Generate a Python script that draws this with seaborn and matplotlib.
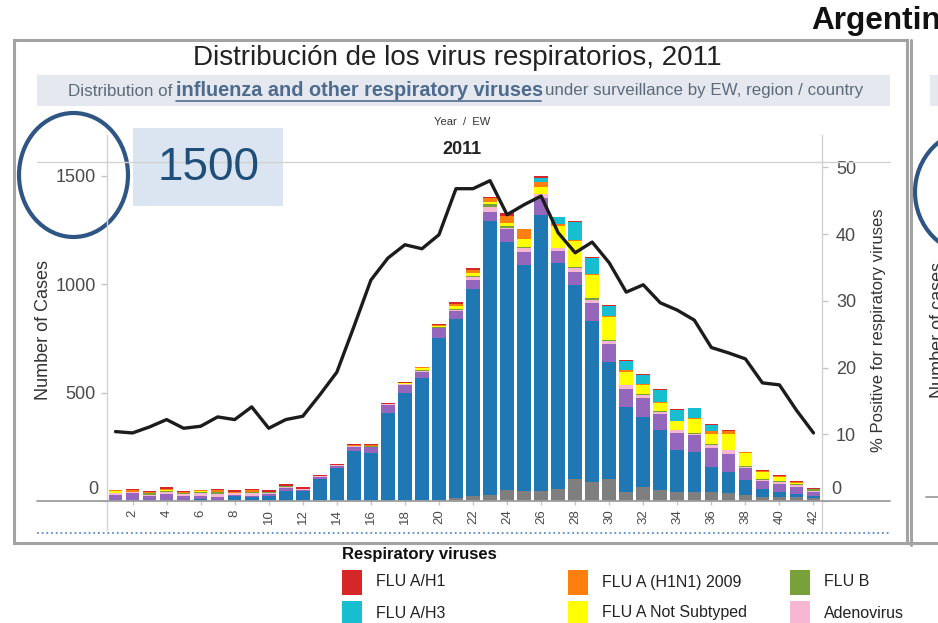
import matplotlib
matplotlib.use("Agg")
import matplotlib.pyplot as plt
import pandas as pd
import seaborn as sns
from matplotlib.patches import Rectangle, Ellipse
from matplotlib.lines import Line2D

# weekly counts, epidemiological weeks 1-42 of 2011
weeks = list(range(1, 43))
other = [0, 0, 0, 0, 0, 0, 0, 0, 0, 0, 0, 0, 0, 1, 0, 0, 0, 0, 3, 6, 12,
         23, 26, 49, 46, 46, 54, 103, 88, 101, 42, 66, 51, 42, 42, 42, 35, 27, 20, 18, 18, 12]
rsv = [3, 3, 4, 4, 4, 8, 6, 22, 18, 24, 46, 48, 100, 150, 231, 223, 405, 497, 563, 745, 826,
       954, 1266, 1145, 1044, 1274, 1043, 894, 743, 542, 390, 323, 278, 192, 184, 113, 100, 69, 35, 22, 14, 11]
parainfluenza = [25, 33, 18, 28, 20, 14, 12, 4, 6, 6, 12, 4, 10, 10, 18, 24, 36, 38, 31, 46, 39,
                 43, 43, 61, 61, 77, 58, 61, 81, 82, 83, 88, 74, 80, 77, 88, 84, 58, 39, 40, 34, 20]
adenovirus = [8, 4, 6, 8, 6, 14, 14, 10, 14, 8, 8, 2, 4, 4, 4, 4, 6, 6, 5, 3, 5,
              15, 23, 6, 15, 18, 10, 15, 16, 15, 18, 14, 8, 12, 6, 15, 15, 5, 4, 8, 9, 3]
flu_b = [2, 2, 8, 6, 8, 6, 8, 2, 2, 2, 2, 0, 0, 0, 1, 1, 0, 1, 2, 2, 4,
         4, 10, 6, 8, 2, 3, 7, 7, 5, 3, 3, 3, 2, 5, 3, 3, 4, 5, 5, 5, 10]
flu_a_ns = [8, 0, 2, 3, 0, 2, 2, 0, 0, 0, 0, 0, 0, 0, 1, 1, 0, 1, 9, 5, 15,
            15, 10, 15, 35, 31, 102, 118, 108, 103, 59, 41, 38, 39, 66, 46, 70, 58, 33, 20, 4, 0]
h1n1_2009 = [5, 10, 5, 8, 4, 6, 8, 3, 12, 2, 2, 2, 2, 0, 4, 4, 2, 2, 4, 5, 8,
             10, 20, 35, 46, 25, 8, 5, 5, 6, 8, 5, 4, 3, 4, 15, 16, 3, 4, 3, 2, 0]
flu_a_h3 = [0, 0, 0, 0, 0, 0, 0, 0, 0, 0, 0, 0, 0, 0, 0, 0, 0, 0, 0, 0, 0,
            0, 0, 0, 0, 18, 31, 85, 72, 45, 43, 43, 56, 52, 44, 30, 0, 0, 0, 0, 0, 0]
flu_a_h1 = [2, 2, 4, 6, 5, 2, 4, 8, 2, 8, 10, 10, 6, 5, 3, 5, 2, 6, 3, 3, 8,
            10, 3, 12, 0, 8, 3, 2, 8, 5, 6, 5, 4, 4, 2, 4, 6, 2, 5, 6, 4, 2]
pct_positive = [10.4, 10.2, 11.1, 12.2, 10.9, 11.2, 12.6, 12.2, 14.1, 10.9, 12.2, 12.7, 15.9, 19.3,
                26.1, 33.1, 36.4, 38.4, 37.8, 39.9, 46.8, 46.8, 48.0, 42.9, 44.4, 45.7, 40.2, 37.2,
                38.8, 35.7, 31.3, 32.4, 29.7, 28.6, 27.1, 23.0, 22.2, 21.3, 17.7, 17.4, 13.6, 10.2]

series = {
    "Other viruses": other,
    "RSV": rsv,
    "Parainfluenza": parainfluenza,
    "Adenovirus": adenovirus,
    "FLU B": flu_b,
    "FLU A Not Subtyped": flu_a_ns,
    "FLU A (H1N1) 2009": h1n1_2009,
    "FLU A/H3": flu_a_h3,
    "FLU A/H1": flu_a_h1,
}
colors = {
    "Other viruses": "#7f7f7f",
    "RSV": "#1f77b4",
    "Parainfluenza": "#9467bd",
    "Adenovirus": "#f7b6d2",
    "FLU B": "#78a13a",
    "FLU A Not Subtyped": "#ffff00",
    "FLU A (H1N1) 2009": "#ff7f0e",
    "FLU A/H3": "#17becf",
    "FLU A/H1": "#d62728",
}
legend_order = ["FLU A/H1", "FLU A (H1N1) 2009", "FLU B",
                "FLU A/H3", "FLU A Not Subtyped", "Adenovirus"]

rows = []
for name, vals in series.items():
    for w, v in zip(weeks, vals):
        rows.append({"week": w, "virus": name, "cases": v})
df = pd.DataFrame(rows)

sns.set_style("white")
plt.rcParams["font.family"] = ["Liberation Sans Narrow", "Liberation Sans", "DejaVu Sans"]
REG = ["Liberation Sans", "DejaVu Sans"]

W, H = 938, 623
fig = plt.figure(figsize=(W / 100, H / 100), dpi=100)
fig.patch.set_facecolor("white")
renderer = fig.canvas.get_renderer()


def fx(x):
    return x / W


def fy(y):
    return 1 - y / H


def hline(x0, x1, y, **kw):
    fig.add_artist(Line2D([fx(x0), fx(x1)], [fy(y), fy(y)], transform=fig.transFigure, **kw))


def vline(x, y0, y1, **kw):
    fig.add_artist(Line2D([fx(x), fx(x)], [fy(y0), fy(y1)], transform=fig.transFigure, **kw))


def fit_text(x0, x1, y, s, **kw):
    t = fig.text(fx(x0), fy(y), s, ha="left", va="center", **kw)
    w = t.get_window_extent(renderer).width
    t.set_fontsize(t.get_fontsize() * (x1 - x0) / w)
    return t


# panel frames
fig.add_artist(Rectangle((fx(14), fy(543)), (907 - 14) / W, (543 - 40) / H, transform=fig.transFigure,
                         fill=False, edgecolor="#a3a3a3", lw=2.2))
vline(911, 40, 545, color="#a3a3a3", lw=2.2)
hline(907, 938, 543, color="#a3a3a3", lw=2.2)

# country heading, running off the right edge as in the slide
country = fit_text(811, 940, 21, "Argentin", fontsize=16, fontweight="bold", family=REG,
                   color="#111111")
country.set_text("Argentina")

# title + subtitle band
fit_text(193, 722, 58, "Distribución de los virus respiratorios, 2011", fontsize=17,
         family=REG, color="#222222")
fig.add_artist(Rectangle((fx(37), fy(106)), (890 - 37) / W, 31 / H, transform=fig.transFigure,
                         facecolor="#e5e8ee", edgecolor="none"))
fit_text(68, 172, 91, "Distribution of", fontsize=11, color="#5d6a7b")
fit_text(176, 541, 90, "influenza and other respiratory viruses", fontsize=13,
         fontweight="bold", color="#4d6b8d")
hline(176, 541, 101, color="#4d6b8d", lw=1.2)
fit_text(545, 860, 91, "under surveillance by EW, region / country", fontsize=11, color="#5d6a7b")

fig.text(fx(462), fy(122), "Year  /  EW", fontsize=8, ha="center", va="center", color="#333333")
fig.text(fx(462), fy(149), "2011", fontsize=13, fontweight="bold", ha="center", va="center",
         color="#222222")

# frame lines around plot area
vline(107, 135, 530, color="#d2d2d2", lw=1)
vline(822, 135, 530, color="#d2d2d2", lw=1)
hline(37, 890, 162, color="#d2d2d2", lw=1)
hline(37, 890, 501, color="#9e9e9e", lw=1.3)
hline(37, 890, 533, color="#5b8bc9", lw=1.3, linestyle=(0, (1, 1.6)))

# main chart
ax = fig.add_axes([fx(107), fy(501), (822 - 107) / W, (501 - 162) / H])
ax.patch.set_alpha(0)
stack_top_first = list(series.keys())[::-1]
sns.histplot(data=df, x="week", weights="cases", hue="virus", hue_order=stack_top_first,
             palette=colors, multiple="stack", discrete=True, shrink=0.8,
             linewidth=0, alpha=1, legend=False, ax=ax)
ax.set_xlim(0.5, 42.5)
ax.set_ylim(0, 1564)
ax.set_xlabel("")
ax.set_ylabel("")
ax.set_xticks(list(range(2, 43, 2)))
ax.set_yticks([0, 500, 1000, 1500], ["", "500", "1000", "1500"])
ax.tick_params(axis="y", length=4, width=1, color="#c4c4c4", labelcolor="#4a4a4a",
               labelsize=13, pad=4, left=True)
ax.tick_params(axis="x", length=3, width=1, color="#c4c4c4", labelcolor="#4a4a4a",
               labelsize=9.5, pad=3, labelrotation=90, bottom=True)
for s in ax.spines.values():
    s.set_visible(False)
ax.annotate("0", xy=(0, 0), xycoords=("axes fraction", "data"), xytext=(-6, 8),
            textcoords="offset points", ha="right", va="center", fontsize=13, color="#4a4a4a")

ax2 = ax.twinx()
sns.lineplot(x=weeks, y=pct_positive, ax=ax2, color="#1c1c1c", linewidth=2.4)
ax2.set_ylim(0, 50.8)
ax2.set_yticks([0, 10, 20, 30, 40, 50], ["", "10", "20", "30", "40", "50"])
ax2.tick_params(axis="y", length=4, width=1, color="#c4c4c4", labelcolor="#4a4a4a",
                labelsize=13, pad=6, right=True)
for s in ax2.spines.values():
    s.set_visible(False)
ax2.annotate("0", xy=(1, 0), xycoords=("axes fraction", "data"), xytext=(7, 8),
             textcoords="offset points", ha="left", va="center", fontsize=13, color="#4a4a4a")

fig.text(fx(43), fy(330), "Number of Cases", rotation=90, fontsize=13, family=REG,
         ha="center", va="center", color="#333333")
fig.text(fx(878), fy(330), "% Positive for respiratory viruses", rotation=90, fontsize=12,
         family=REG, ha="center", va="center", color="#333333")

# legend
fig.text(fx(342), fy(555), "Respiratory viruses", fontsize=12, fontweight="bold",
         ha="left", va="center", color="#111111")
col_x = [342, 568, 790]
row_y = [570, 601]
for i, name in enumerate(legend_order):
    r, c = divmod(i, 3)
    fig.add_artist(Rectangle((fx(col_x[c]), fy(row_y[r] + 25)), 20 / W, 25 / H,
                             transform=fig.transFigure, facecolor=colors[name], edgecolor="none"))
    fig.text(fx(col_x[c] + 34), fy(row_y[r] + 12), name, fontsize=11.5, ha="left",
             va="center", color="#222222")

# highlight annotation
fig.add_artist(Ellipse((fx(73.5), fy(175)), 109 / W, 124 / H, transform=fig.transFigure,
                       fill=False, edgecolor="#2f5584", lw=3))
fig.add_artist(Rectangle((fx(133), fy(206)), 150 / W, 78 / H, transform=fig.transFigure,
                         facecolor="#dbe5f1", edgecolor="none"))
fig.text(fx(208), fy(168), "1500", fontsize=33, family=REG, ha="center", va="center",
         color="#1f4e79")

# neighbouring panel, cut by the edge
fig.add_artist(Rectangle((fx(930), fy(106)), 20 / W, 31 / H, transform=fig.transFigure,
                         facecolor="#e5e8ee", edgecolor="none"))
fig.add_artist(Ellipse((fx(975), fy(192)), 120 / W, 125 / H, transform=fig.transFigure,
                       fill=False, edgecolor="#2f5584", lw=3))
fig.text(fx(938), fy(330), "Number of cases", rotation=90, fontsize=13, family=REG,
         ha="center", va="center", color="#333333")
hline(926, 938, 497, color="#9e9e9e", lw=1.3)

fig.savefig("out.png", dpi=100)
